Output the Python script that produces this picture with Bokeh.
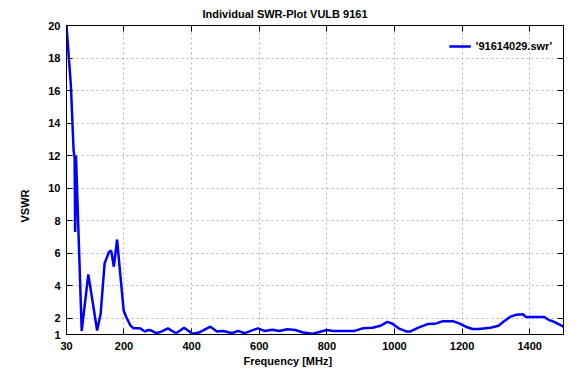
from bokeh.plotting import figure
from bokeh.models import (FixedTicker, LinearAxis, Range1d, Legend, LegendItem, Title)
from bokeh.embed import file_html
from bokeh.resources import INLINE

# ---- data ----
freq = [30, 38, 43, 51, 54, 55.6, 58, 75, 94.5, 120.6,
        131, 142.7, 155.5, 162.2, 170, 179.6, 189.2, 199, 206.6, 218.3,
        228, 247.3, 261.8, 271.7, 281.3, 295.8, 310.3, 329.8, 354, 378,
        402.5, 421.6, 455.6, 475, 494.3, 518.7, 537.8, 557.3, 596, 615.4,
        639.5, 659, 683, 707.5, 726.7, 755.7, 775, 799, 818.8, 881.8,
        906, 935, 959, 978.6, 993, 1012.6, 1036.7, 1046, 1070.7, 1099.7,
        1123.9, 1143.3, 1172.4, 1191.5, 1211, 1230.5, 1249.6, 1283.6, 1307.8, 1322.3,
        1341.7, 1361.2, 1380.4, 1388.2, 1414.4, 1443.4, 1458, 1472.5, 1487, 1500]
vswr = [20, 17.7, 16.3, 12.3, 11.9, 7.3, 12.0, 1.22, 4.7, 1.25,
        2.27, 5.37, 6.07, 6.16, 5.17, 6.84, 4.67, 2.48, 2.08, 1.58,
        1.38, 1.38, 1.18, 1.28, 1.24, 1.08, 1.18, 1.38, 1.08, 1.42,
        1.04, 1.12, 1.48, 1.18, 1.22, 1.08, 1.22, 1.08, 1.38, 1.22,
        1.29, 1.22, 1.32, 1.28, 1.14, 1.04, 1.14, 1.28, 1.22, 1.22,
        1.38, 1.42, 1.54, 1.78, 1.68, 1.38, 1.18, 1.18, 1.42, 1.65,
        1.68, 1.82, 1.82, 1.68, 1.48, 1.34, 1.34, 1.42, 1.54, 1.78,
        2.08, 2.22, 2.24, 2.08, 2.08, 2.08, 1.88, 1.78, 1.62, 1.48]
x_ticks = [30, 200, 400, 600, 800, 1000, 1200, 1400]
y_ticks = [1, 2, 4, 6, 8, 10, 12, 14, 16, 18, 20]
x_grid = [200, 400, 600, 800, 1000, 1200, 1400]
y_grid = [2, 4, 6, 8, 10, 12, 14, 16, 18]
series_name = "'91614029.swr'"
title_text = "Individual SWR-Plot VULB 9161"
x_label = "Frequency [MHz]"
y_label = "VSWR"

FONT = "Liberation Sans"

p = figure(width=565, height=367, output_backend="svg", toolbar_location=None,
           x_range=Range1d(30, 1500), y_range=Range1d(1, 20),
           min_border_left=66, min_border_right=2, min_border_top=25, min_border_bottom=33)

p.outline_line_color = "black"
p.outline_line_width = 1
p.background_fill_color = "white"

for ax, ticks in ((p.xaxis[0], x_ticks), (p.yaxis[0], y_ticks)):
    ax.ticker = FixedTicker(ticks=ticks)
    ax.major_label_text_font = FONT
    ax.major_label_text_font_style = "bold"
    ax.major_label_text_font_size = "11px"
    ax.major_label_text_color = "black"
    ax.major_tick_in = 6
    ax.major_tick_out = 0
    ax.minor_tick_line_color = None
    ax.axis_line_color = "black"
    ax.major_tick_line_color = "black"
p.xaxis.major_label_standoff = 7
p.yaxis.major_label_standoff = 6

# mirrored tick marks on top and right (no labels)
top = LinearAxis(ticker=FixedTicker(ticks=x_ticks), major_label_text_color=None,
                 major_label_text_font_size="0px",
                 major_label_standoff=0, major_tick_in=6, major_tick_out=0,
                 minor_tick_line_color=None, axis_line_color="black")
right = LinearAxis(ticker=FixedTicker(ticks=y_ticks), major_label_text_color=None,
                   major_label_text_font_size="0px",
                   major_label_standoff=0, major_tick_in=6, major_tick_out=0,
                   minor_tick_line_color=None, axis_line_color="black")
p.add_layout(top, "above")
p.add_layout(right, "right")

p.xgrid.ticker = FixedTicker(ticks=x_grid)
p.ygrid.ticker = FixedTicker(ticks=y_grid)
for g in (p.xgrid[0], p.ygrid[0]):
    g.grid_line_color = "#b4b4b4"
    g.grid_line_dash = "2 3"
    g.grid_line_width = 1

r = p.line(freq, vswr, line_color="#0000ff", line_width=2.5)

legend = Legend(items=[LegendItem(label=series_name, renderers=[r])],
                location="top_right", border_line_color=None,
                background_fill_alpha=0, label_text_font=FONT,
                label_text_font_style="bold", label_text_font_size="11px",
                label_text_color="black", glyph_width=22, margin=11)
p.add_layout(legend)

p.add_layout(Title(text=title_text, align="left", vertical_align="top", text_font=FONT,
                   text_color="black", text_font_style="bold", text_font_size="11px",
                   offset=136, standoff=8), "above")
p.add_layout(Title(text=x_label, align="left", text_font=FONT, text_color="black",
                   text_font_style="bold", text_font_size="11px", offset=177,
                   standoff=0), "below")
p.add_layout(Title(text=y_label, align="left", text_font=FONT,
                   text_color="black", text_font_style="bold", text_font_size="11px",
                   offset=112, standoff=29), "left")

open("out.html", "w").write(file_html(p, INLINE))
